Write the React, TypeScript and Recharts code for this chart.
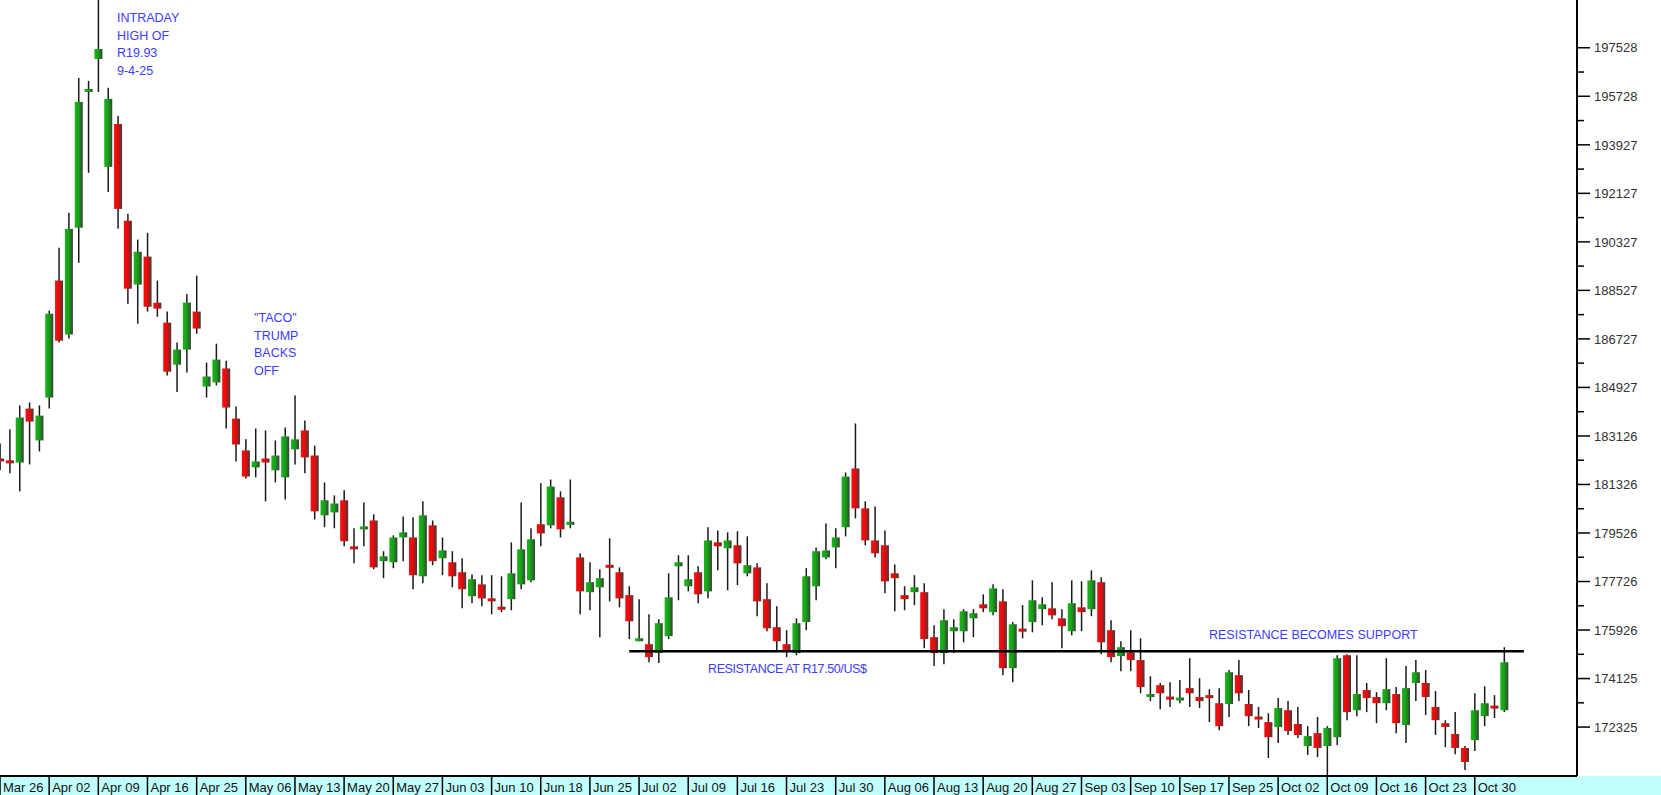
import { ComposedChart, Bar, XAxis, YAxis, ReferenceLine } from "recharts"

// USD/ZAR daily candles, price x 10000, one entry per session from Mar 26
const opens = [
    182250, 182220, 182140, 184140, 182960, 184550, 188890, 186890, 190850, 195890,
    197110, 193110, 194700, 191110, 188740, 189780, 188070, 187330, 185770, 186330,
    187740, 184960, 185110, 185630, 183770, 182590, 181960, 182290, 181850, 181590,
    182630, 183330, 182400, 180180, 180290, 180740, 179030, 179660, 179990, 178480,
    178440, 179360, 179360, 177920, 179810, 178590, 178440, 178070, 177180, 177620,
    177100, 176770, 177070, 177620, 177770, 179850, 179810, 180850, 179850, 178620,
    177330, 177510, 178330, 178070, 177220, 175510, 175400, 175070, 175700, 178290,
    177550, 178070, 177360, 179180, 178960, 179070, 178030, 178250, 177070, 176030,
    175400, 175070, 176220, 177550, 178620, 178990, 179740, 181920, 180440, 179250,
    179070, 178030, 177220, 177330, 177330, 175660, 175070, 175880, 175880, 176360,
    176880, 176590, 176990, 174510, 175960, 176220, 176700, 176730, 176360, 175880,
    176770, 176700, 177700, 175920, 174960, 175100, 174810, 173440, 173880, 173440,
    173330, 173770, 173440, 173510, 173210, 173180, 174250, 173180, 172700, 172510,
    172330, 172950, 172440, 171620, 172100, 171620, 171950, 174990, 172950, 173700,
    173440, 173210, 173550, 172400, 173960, 173960, 173070, 172470, 172070, 171550,
    171840, 172730, 173100, 172950,
]
const highs = [
    182850, 183370, 184260, 184370, 184260, 187770, 190110, 191410, 196410, 196300,
    199300, 196040, 195000, 191370, 190410, 190660, 188890, 187740, 186590, 188390,
    189070, 185850, 186550, 185920, 184220, 183000, 183400, 183330, 182960, 183440,
    184630, 183700, 182770, 181400, 180920, 181110, 179700, 180660, 180220, 178850,
    179440, 180140, 180110, 180700, 179990, 179360, 178850, 178590, 177990, 177960,
    177960, 177920, 179180, 180660, 179700, 181370, 181510, 181070, 181510, 178770,
    178440, 178180, 179330, 178250, 177550, 177070, 176510, 176330, 178030, 178700,
    178700, 178290, 179740, 179620, 179550, 179590, 179400, 178400, 177660, 176810,
    175920, 176360, 178220, 178990, 179880, 179700, 181770, 183590, 180700, 180510,
    179620, 178360, 177550, 177960, 177660, 176100, 176700, 176330, 176700, 176700,
    177250, 177620, 177440, 176220, 176850, 177770, 177140, 177700, 176700, 177770,
    177730, 178140, 177880, 176290, 175510, 175920, 175620, 174210, 173960, 173990,
    174070, 174880, 174140, 173730, 173770, 174440, 174810, 173700, 173070, 172840,
    173400, 173290, 173070, 172360, 172700, 172360, 174990, 175030, 174990, 173960,
    173620, 174880, 173810, 174590, 174810, 174440, 173660, 172580, 172880, 171620,
    173580, 173840, 173510, 175290,
]
const lows = [
    181850, 181740, 181070, 182070, 182550, 184140, 186590, 186740, 189550, 192890,
    195890, 192180, 190810, 188030, 187290, 187740, 187550, 185370, 184760, 185480,
    186920, 184550, 185000, 183400, 182180, 181550, 181590, 180700, 181400, 180770,
    182070, 181740, 180030, 179740, 179700, 179030, 178400, 179030, 178180, 177850,
    178220, 178480, 177440, 177660, 178330, 177960, 177510, 176730, 176920, 176810,
    176510, 176590, 176660, 177440, 177700, 179030, 179700, 179360, 179700, 176510,
    176660, 175660, 176990, 176770, 175590, 175510, 174730, 174700, 175590, 177030,
    177360, 176920, 177100, 178140, 177400, 177590, 177920, 176440, 175880, 175140,
    174920, 174990, 175920, 177030, 178550, 178220, 179400, 180070, 179070, 178620,
    177290, 176620, 176660, 176850, 175250, 174590, 174660, 175070, 175470, 175660,
    176590, 176470, 174250, 173990, 175620, 175840, 176100, 176330, 175250, 175730,
    175880, 176440, 175030, 174730, 174400, 174400, 173580, 173290, 172990, 173070,
    173210, 173070, 173030, 172510, 172210, 172700, 173290, 172360, 172290, 171180,
    171730, 172030, 171920, 171290, 171210, 170520, 171660, 172580, 172730, 172880,
    172470, 172950, 172100, 171730, 173290, 172770, 172030, 171580, 171320, 170730,
    171440, 172360, 172660, 172880,
]
const closes = [
    182220, 182110, 183810, 183660, 183880, 187660, 186660, 190810, 195520, 196000,
    197480, 195630, 191550, 188590, 189960, 187920, 187850, 185510, 186330, 188070,
    187110, 185330, 185960, 184180, 182810, 181620, 182180, 182140, 182400, 183110,
    183000, 182330, 180330, 180740, 180620, 179220, 178920, 179770, 178250, 178660,
    179360, 179550, 177960, 180180, 178480, 178880, 177920, 177440, 177810, 177100,
    176990, 176700, 178030, 178920, 179290, 179510, 181250, 179660, 179920, 177360,
    177700, 177850, 178250, 177100, 176250, 175620, 174920, 176180, 177140, 178440,
    177810, 177250, 179250, 179030, 179250, 178400, 178330, 176990, 175990, 175510,
    175180, 176180, 177920, 178850, 178880, 179360, 181620, 180440, 179250, 178770,
    177730, 177850, 177070, 177510, 175590, 175070, 176290, 176030, 176620, 176550,
    176730, 177470, 174510, 176140, 175880, 177030, 176880, 176470, 176070, 176920,
    176590, 177770, 175470, 174920, 175290, 174810, 173810, 173550, 173580, 173360,
    173400, 173580, 173290, 173400, 172360, 174360, 173580, 172730, 172620, 171950,
    173030, 172180, 172030, 171990, 171550, 172290, 174880, 172880, 173550, 173400,
    173210, 173730, 172470, 173770, 174360, 173440, 172580, 172330, 171550, 171030,
    172950, 173210, 173030, 174730,
]

// one label every 5 sessions
const dateLabels = [
    "Mar 26", "Apr 02", "Apr 09", "Apr 16", "Apr 25", "May 06", "May 13", "May 20",
    "May 27", "Jun 03", "Jun 10", "Jun 18", "Jun 25", "Jul 02", "Jul 09", "Jul 16",
    "Jul 23", "Jul 30", "Aug 06", "Aug 13", "Aug 20", "Aug 27", "Sep 03", "Sep 10",
    "Sep 17", "Sep 25", "Oct 02", "Oct 09", "Oct 16", "Oct 23", "Oct 30",
]
const majorTicks = [
    172325, 174125, 175926, 177726, 179526, 181326, 183126, 184927,
    186727, 188527, 190327, 192127, 193927, 195728, 197528,
]
const minorTicks = [
    173225, 175025, 176826, 178626, 180426, 182226, 184026,
    185827, 187627, 189427, 191227, 193027, 194827, 196628,
]
const resistanceLevel = 175140

const candles = opens.map((open, i) => ({
    i,
    open,
    high: highs[i],
    low: lows[i],
    close: closes[i],
    range: [lows[i], highs[i]],
}))

const FONT = "Arial, 'Liberation Sans', sans-serif"
const NOTE = "#3c3cff"

const Candle = (props: any) => {
    const { x, y, width, height, payload } = props
    if (!payload) return null
    const { open, close, high, low } = payload
    const top = Math.min(y, y + height)
    const h = Math.abs(height)
    const cx = x + width / 2
    const ppu = h / (high - low)
    const bodyTop = top + (high - Math.max(open, close)) * ppu
    let bodyH = Math.abs(open - close) * ppu
    let by = bodyTop
    if (bodyH < 3) {
        by = bodyTop - (3 - bodyH) / 2
        bodyH = 3
    }
    const up = close >= open
    return (
        <g>
            <line x1={cx} y1={top} x2={cx} y2={top + h} stroke="#1a1a1a" strokeWidth={1.5} />
            <rect x={cx - 4} y={by} width={8} height={bodyH} fill={up ? "url(#gUp)" : "url(#gDn)"} />
        </g>
    )
}

const DateTick = (props: any) => {
    const { x, y, payload } = props
    const label = dateLabels[Math.round(payload.value / 5)]
    return (
        <g>
            <line x1={x} y1={y} x2={x} y2={y + 19} stroke="#000" strokeWidth={1.5} />
            <text x={x + 3} y={y + 15.5} fontSize={13} fontFamily={FONT} fill="#111">
                {label}
            </text>
        </g>
    )
}

const PriceTick = (props: any) => {
    const { x, y, payload } = props
    const major = majorTicks.includes(payload.value)
    return (
        <g>
            <line x1={x} y1={y} x2={x + (major ? 13 : 7)} y2={y} stroke="#000" strokeWidth={1.5} />
            {major && (
                <text x={x + 17} y={y} dy="0.36em" fontSize={13} fontFamily={FONT} fill="#333">
                    {payload.value}
                </text>
            )}
        </g>
    )
}

const noteStyle = {
    position: "absolute" as const,
    color: NOTE,
    fontFamily: FONT,
    fontSize: 12.5,
    lineHeight: "17.5px",
    whiteSpace: "pre" as const,
}

export default function App() {
    return (
        <div style={{ position: "relative", width: 1661, height: 795, background: "#fff", overflow: "hidden" }}>
            <style>{"body{margin:0}"}</style>
            <div style={{ position: "absolute", left: 0, top: 776, width: 1661, height: 19, background: "#c2ffff" }} />
            <ComposedChart
                width={1661}
                height={795}
                data={candles}
                margin={{ top: 0, right: 0, bottom: 0, left: 0 }}
            >
                <defs>
                    <linearGradient id="gUp" x1="0" y1="0" x2="1" y2="0">
                        <stop offset="0%" stopColor="#1cb51c" />
                        <stop offset="50%" stopColor="#15a015" />
                        <stop offset="100%" stopColor="#3c3c3c" />
                    </linearGradient>
                    <linearGradient id="gDn" x1="0" y1="0" x2="1" y2="0">
                        <stop offset="0%" stopColor="#ff0a0a" />
                        <stop offset="50%" stopColor="#e30c0c" />
                        <stop offset="100%" stopColor="#3c3c3c" />
                    </linearGradient>
                </defs>
                <XAxis
                    type="number"
                    dataKey="i"
                    domain={[0, 160.4]}
                    ticks={dateLabels.map((_, k) => k * 5)}
                    interval={0}
                    height={19}
                    tickSize={0}
                    tickMargin={0}
                    tickLine={false}
                    axisLine={{ stroke: "#000", strokeWidth: 2 }}
                    tick={<DateTick />}
                />
                <YAxis
                    orientation="right"
                    type="number"
                    domain={[170510, 199260]}
                    ticks={[...majorTicks, ...minorTicks]}
                    interval={0}
                    width={84}
                    tickSize={0}
                    tickMargin={0}
                    tickLine={false}
                    axisLine={{ stroke: "#000", strokeWidth: 2 }}
                    tick={<PriceTick />}
                />
                <Bar
                    dataKey="range"
                    barSize={8}
                    isAnimationActive={false}
                    shape={(p: any) => <Candle {...p} />}
                />
                <ReferenceLine
                    segment={[{ x: 64, y: resistanceLevel }, { x: 155, y: resistanceLevel }]}
                    stroke="#000"
                    strokeWidth={2.5}
                />
            </ComposedChart>
            <div style={{ ...noteStyle, left: 117, top: 10 }}>{"INTRADAY\nHIGH OF\nR19.93\n9-4-25"}</div>
            <div style={{ ...noteStyle, left: 254, top: 310 }}>{"\"TACO\"\nTRUMP\nBACKS\nOFF"}</div>
            <div style={{ ...noteStyle, left: 708, top: 661, letterSpacing: -0.4 }}>RESISTANCE AT R17.50/US$</div>
            <div style={{ ...noteStyle, left: 1209, top: 627 }}>RESISTANCE BECOMES SUPPORT</div>
        </div>
    )
}
